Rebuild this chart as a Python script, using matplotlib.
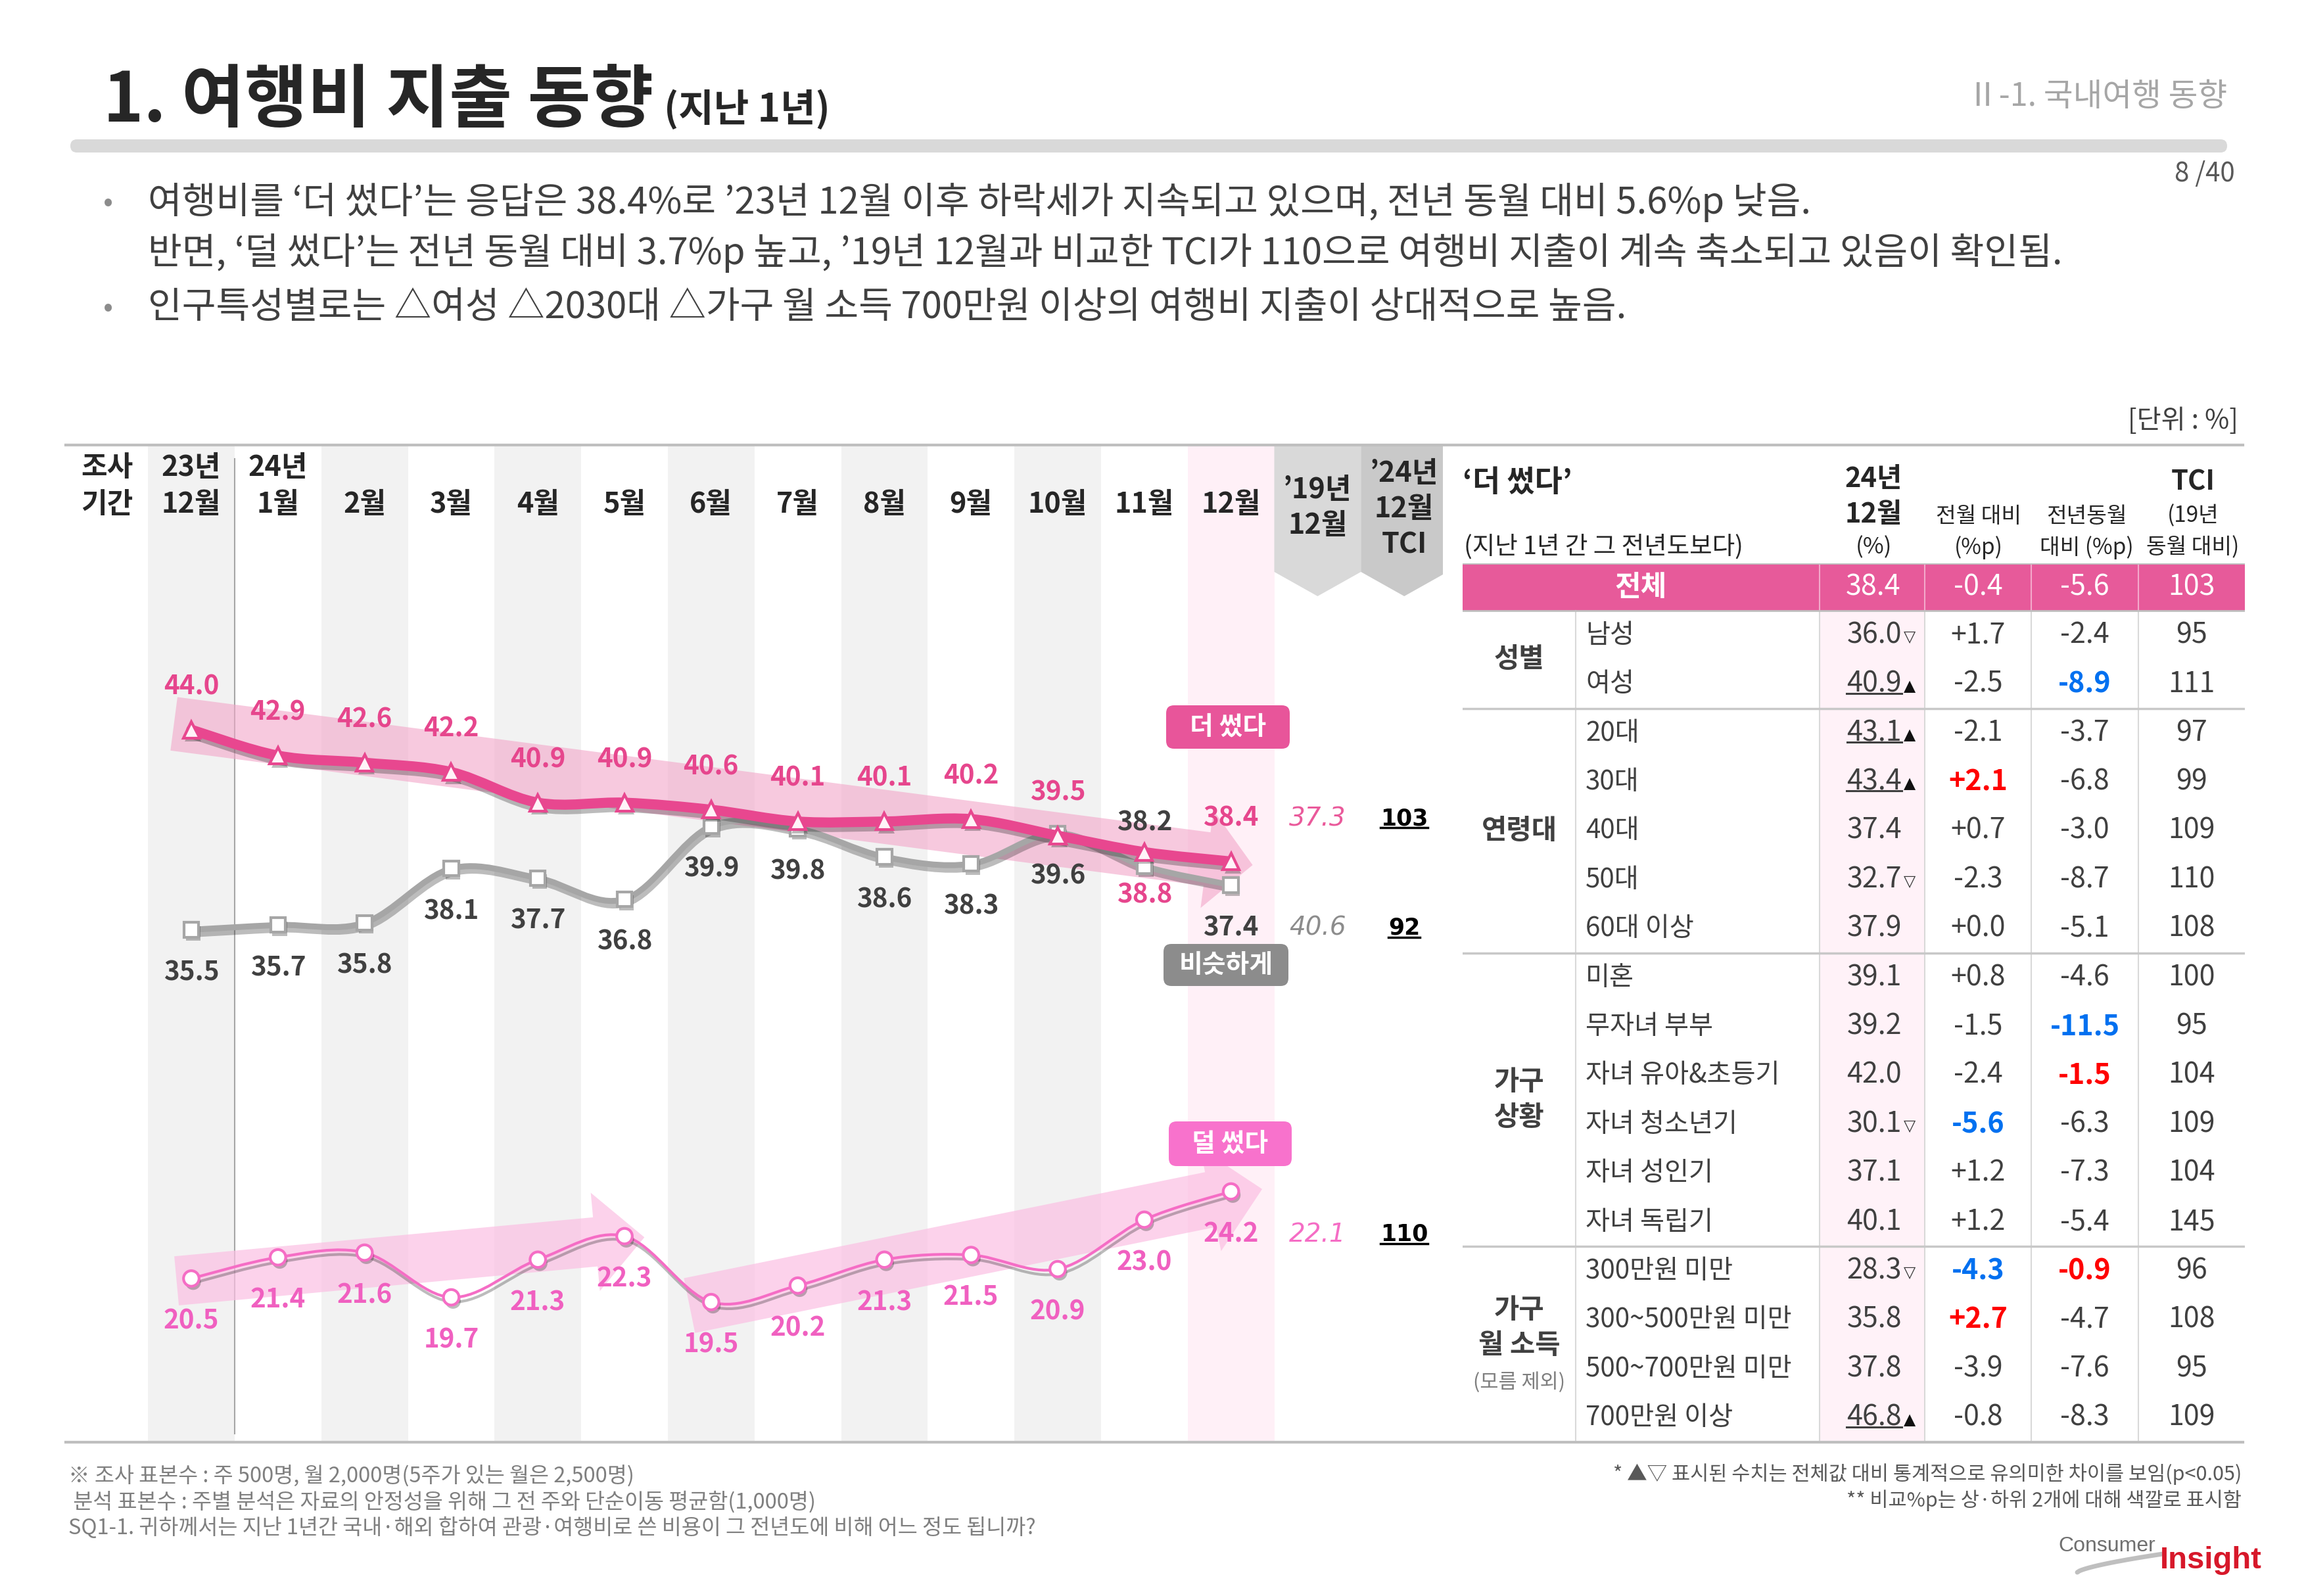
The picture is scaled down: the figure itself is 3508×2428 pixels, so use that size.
import numpy as np
import matplotlib
matplotlib.use('Agg')
import matplotlib.pyplot as plt
from matplotlib.patches import Polygon, FancyBboxPatch, PathPatch, Rectangle
from matplotlib.path import Path
from matplotlib.lines import Line2D
import matplotlib.patheffects as pe
from matplotlib.transforms import IdentityTransform

plt.rcParams['font.family'] = ['Noto Sans CJK KR', 'DejaVu Sans']

# ---------------- data ----------------
period_year = ['23년', '24년', '', '', '', '', '', '', '', '', '', '', '']
period_month = ['12월', '1월', '2월', '3월', '4월', '5월', '6월', '7월', '8월', '9월', '10월', '11월', '12월']
more_spent = [44.0, 42.9, 42.6, 42.2, 40.9, 40.9, 40.6, 40.1, 40.1, 40.2, 39.5, 38.8, 38.4]
similar = [35.5, 35.7, 35.8, 38.1, 37.7, 36.8, 39.9, 39.8, 38.6, 38.3, 39.6, 38.2, 37.4]
less_spent = [20.5, 21.4, 21.6, 19.7, 21.3, 22.3, 19.5, 20.2, 21.3, 21.5, 20.9, 23.0, 24.2]
series_names = ['더 썼다', '비슷하게', '덜 썼다']
dec2019 = [37.3, 40.6, 22.1]
tci_dec2024 = [103, 92, 110]

group_labels = ['성별', '연령대', '가구\n상황', '가구\n월 소득']
group_sizes = [2, 5, 6, 4]
row_labels = ['남성', '여성', '20대', '30대', '40대', '50대', '60대 이상', '미혼', '무자녀 부부',
              '자녀 유아&초등기', '자녀 청소년기', '자녀 성인기', '자녀 독립기', '300만원 미만',
              '300~500만원 미만', '500~700만원 미만', '700만원 이상']
row_value = [36.0, 40.9, 43.1, 43.4, 37.4, 32.7, 37.9, 39.1, 39.2, 42.0, 30.1, 37.1, 40.1, 28.3, 35.8, 37.8, 46.8]
row_sig = ['▽', '▲', '▲', '▲', '', '▽', '', '', '', '', '▽', '', '', '▽', '', '', '▲']
row_mom = [1.7, -2.5, -2.1, 2.1, 0.7, -2.3, 0.0, 0.8, -1.5, -2.4, -5.6, 1.2, 1.2, -4.3, 2.7, -3.9, -0.8]
row_yoy = [-2.4, -8.9, -3.7, -6.8, -3.0, -8.7, -5.1, -4.6, -11.5, -1.5, -6.3, -7.3, -5.4, -0.9, -4.7, -7.6, -8.3]
row_tci = [95, 111, 97, 99, 109, 110, 108, 100, 95, 104, 109, 104, 145, 96, 108, 95, 109]
total_label = '전체'
total_values = [38.4, -0.4, -5.6, 103]

# ---------------- layout ----------------
W, H, DPI = 3508, 2428, 100
fig = plt.figure(figsize=(W / DPI, H / DPI), dpi=DPI)
fig.patch.set_facecolor('white')


def rect(x0, y0, x1, y1):
    return [x0 / W, 1 - y1 / H, (x1 - x0) / W, (y1 - y0) / H]


PINK = '#e8478f'
PINK_LBL = '#e6468d'
GRAY_LINE = '#a6a6a6'
LESS = '#f56dc5'
LESS_LBL = '#f060c0'
DARK = '#262626'
TXT = '#404040'

CX0, CX1, CY0, CY1 = 100, 2195, 678, 2192
COL0, COLW = 291, 131.8
ax = fig.add_axes(rect(CX0, CY0, CX1, CY1))
ax.set_xlim((CX0 - COL0) / COLW, (CX1 - COL0) / COLW)
ax.set_ylim(13.78, 56.07)
ax.axis('off')
ax2 = ax.twinx()
ax2.set_ylim(13.6, 55.89)
ax2.axis('off')

xt = ax.get_xaxis_transform()


def fy(px):
    return 1 - (px - CY0) / (CY1 - CY0)


# column stripes
for i in range(0, 12, 2):
    ax.axvspan(i - 0.5, i + 0.5, color='#f2f2f2', lw=0, zorder=0)
ax.axvspan(11.5, 12.5, color='#fff0f7', lw=0, zorder=0)

# banners for '19 and TCI columns
for xc, col in [(13, '#d9d9d9'), (14, '#c9c9c9')]:
    ax.add_patch(Polygon([(xc - 0.5, 1.0), (xc + 0.5, 1.0), (xc + 0.5, fy(870)), (xc, fy(907)),
                          (xc - 0.5, fy(870))], closed=True, transform=xt, fc=col, ec='none', zorder=0.5))

# separator line between 23년 and 24년
ax.plot([0.5, 0.5], [fy(698), fy(2181)], transform=xt, color='#a6a6a6', lw=1.5, zorder=0.6)

# header labels
hdr = dict(transform=xt, ha='center', va='center', fontsize=31, fontweight='bold', color=DARK, zorder=5)
ax.text(-0.97, fy(711), '조사', **hdr)
ax.text(-0.97, fy(767), '기간', **hdr)
for i in range(len(period_month)):
    if period_year[i]:
        ax.text(i, fy(711), period_year[i], **hdr)
    ax.text(i, fy(767), period_month[i], **hdr)
ax.text(13, fy(745), '’19년', **hdr)
ax.text(13, fy(799), '12월', **hdr)
ax.text(14, fy(720), '’24년', **hdr)
ax.text(14, fy(774), '12월', **hdr)
ax.text(14, fy(828), 'TCI', **hdr)


def smooth_path(xs, ys):
    pts = np.column_stack([xs, ys]).astype(float)
    n = len(pts)
    verts = [pts[0]]
    codes = [Path.MOVETO]
    for k in range(n - 1):
        p0 = pts[k - 1] if k > 0 else pts[k]
        p1, p2 = pts[k], pts[k + 1]
        p3 = pts[k + 2] if k + 2 < n else pts[k + 1]
        verts += [p1 + (p2 - p0) / 6.0, p2 - (p3 - p1) / 6.0, p2]
        codes += [Path.CURVE4] * 3
    return Path(verts, codes)


def trend_arrow(axis, p0, p1, shaft, head_w, head_len, color, alpha):
    a = axis.transData.transform(p0)
    b = axis.transData.transform(p1)
    d = b - a
    u = d / np.hypot(*d)
    nrm = np.array([-u[1], u[0]])
    base = b - u * head_len
    pts = [a + nrm * shaft / 2, base + nrm * shaft / 2, base + nrm * head_w / 2, b,
           base - nrm * head_w / 2, base - nrm * shaft / 2, a - nrm * shaft / 2]
    axis.add_patch(Polygon(pts, closed=True, transform=IdentityTransform(), fc=color, ec='none',
                           alpha=alpha, zorder=1))


x = np.arange(len(period_month))

# trend arrows
trend_arrow(ax, (x[0] - 0.2, more_spent[0] + 0.25), (x[-1] + 0.25, more_spent[-1] - 0.15),
            82, 150, 70, '#f2a6c9', 0.6)
trend_arrow(ax2, (x[0] - 0.17, less_spent[0] - 0.1), (x[5] + 0.23, less_spent[5] - 0.05),
            75, 150, 75, '#fbbfe3', 0.7)
trend_arrow(ax2, (x[6] - 0.25, less_spent[6] - 0.15), (x[-1] + 0.36, less_spent[-1] + 0.1),
            85, 160, 80, '#fbbfe3', 0.7)

shadow_line = [pe.SimpleLineShadow(offset=(2, -5), shadow_color='#222222', alpha=0.3), pe.Normal()]
shadow_mark = [pe.SimplePatchShadow(offset=(2, -4), shadow_rgbFace='#222222', alpha=0.3), pe.Normal()]

ax.add_patch(PathPatch(smooth_path(x, similar), fill=False, ec=GRAY_LINE, lw=6.5, capstyle='round',
                       joinstyle='round', path_effects=shadow_line, zorder=3))
ax.plot(x, similar, ls='none', marker='s', ms=16, mfc='white', mec=GRAY_LINE, mew=3,
        path_effects=shadow_mark, zorder=4)
ax.add_patch(PathPatch(smooth_path(x, more_spent), fill=False, ec=PINK, lw=11, capstyle='round',
                       joinstyle='round', path_effects=shadow_line, zorder=5))
ax.plot(x, more_spent, ls='none', marker='^', ms=18, mfc='#fff3f8', mec=PINK, mew=3,
        path_effects=shadow_mark, zorder=6)
ax2.add_patch(PathPatch(smooth_path(x, less_spent), fill=False, ec=LESS, lw=3, capstyle='round',
                        joinstyle='round', path_effects=shadow_line, zorder=3))
ax2.plot(x, less_spent, ls='none', marker='o', ms=17, mfc='white', mec=LESS, mew=3,
         path_effects=shadow_mark, zorder=4)

OFF = 47
more_side = [1] * 11 + [-1, 1]
similar_side = [-1] * 11 + [1, -1]
less_side = [-1] * 13
lbl = dict(textcoords='offset points', ha='center', va='center', fontsize=29, fontweight='bold', zorder=8)
for i in x:
    ax.annotate(f'{more_spent[i]:.1f}', (i, more_spent[i]), xytext=(0, OFF * more_side[i]), color=PINK_LBL, **lbl)
    ax.annotate(f'{similar[i]:.1f}', (i, similar[i]), xytext=(0, OFF * similar_side[i]), color=TXT, **lbl)
    ax2.annotate(f'{less_spent[i]:.1f}', (i, less_spent[i]), xytext=(0, OFF * less_side[i]), color=LESS_LBL, **lbl)

# '19 Dec values and TCI
cmp_colors = ['#ea5a9b', '#8c8c8c', LESS]
tci_texts = []
for k, (axis, series, side) in enumerate([(ax, more_spent, more_side[-1]), (ax, similar, similar_side[-1]),
                                           (ax2, less_spent, less_side[-1])]):
    axis.annotate(f'{dec2019[k]:.1f}', (13, series[-1]), xytext=(0, OFF * side), textcoords='offset points',
                  ha='center', va='center', fontsize=28, style='italic', fontweight='normal',
                  family=['DejaVu Sans'], color=cmp_colors[k], zorder=8)
    t = axis.annotate(f'{tci_dec2024[k]}', (14, series[-1]), xytext=(0, OFF * side), textcoords='offset points',
                      ha='center', va='center', fontsize=25, fontweight='bold',
                      family=['DejaVu Sans'], color='black', zorder=8)
    tci_texts.append(t)

# ---------------- table ----------------
TX0, TX1 = 2225, 3415
RT, RP = 929, 74.4
T_TOP, T_BOT = 857, 2195
axt = fig.add_axes(rect(TX0, T_TOP, TX1, T_BOT))
axt.set_xlim(TX0, TX1)
axt.set_ylim(-0.5 + (T_BOT - RT) / RP, -0.5 - (RT - T_TOP) / RP)
axt.axis('off')
ytop = -0.5 - (RT - T_TOP) / RP
ybot = -0.5 + (T_BOT - RT) / RP

C_SPLIT, C_VAL, C_MOM, C_YOY, C_TCI = 2397, 2768, 2928, 3090, 3253
axt.add_patch(Rectangle((TX0, ytop), TX1 - TX0, -0.5 - ytop, fc='#e75a9a', ec='none', zorder=1))
axt.add_patch(Rectangle((C_VAL, -0.5), C_MOM - C_VAL, ybot + 0.5, fc='#fff2f8', ec='none', zorder=0))
for cx in [C_VAL, C_MOM, C_YOY, C_TCI]:
    axt.plot([cx, cx], [ytop, -0.5], color='#f3a9cb', lw=1.5, zorder=2)
    axt.plot([cx, cx], [-0.5, ybot], color='#d9d9d9', lw=1.5, zorder=2)
axt.plot([C_SPLIT, C_SPLIT], [-0.5, ybot], color='#d9d9d9', lw=1.5, zorder=2)
axt.plot([TX0, TX1], [ytop, ytop], color='#bfbfbf', lw=2, zorder=3)
axt.plot([TX0, TX1], [-0.5, -0.5], color='#bfbfbf', lw=2, zorder=3)
edges = np.cumsum(group_sizes)[:-1]
for e in edges:
    axt.plot([TX0, TX1], [e - 0.5, e - 0.5], color='#c8c8c8', lw=2.5, zorder=3)

col_cx = [(C_VAL + C_MOM) / 2 + 2, (C_MOM + C_YOY) / 2, (C_YOY + C_TCI) / 2, (C_TCI + TX1) / 2]
yh = (ytop - 0.5) / 2
axt.text((TX0 + C_VAL) / 2, yh, total_label, ha='center', va='center', fontsize=31, fontweight='bold',
         color='white', zorder=4)
tot_fmt = [f'{total_values[0]:.1f}', f'{total_values[1]:.1f}', f'{total_values[2]:.1f}', f'{total_values[3]:d}']
for cx, s in zip(col_cx, tot_fmt):
    axt.text(cx, yh, s, ha='center', va='center', fontsize=31, color='white', zorder=4)

# group labels
start = 0
for g, size in zip(group_labels, group_sizes):
    mid = start + (size - 1) / 2
    lines = g.split('\n')
    if len(lines) == 1:
        axt.text(2311, mid, lines[0], ha='center', va='center', fontsize=30, fontweight='bold', color=TXT)
    elif size == 6:
        axt.text(2311, mid - 0.36, lines[0], ha='center', va='center', fontsize=30, fontweight='bold', color=TXT)
        axt.text(2311, mid + 0.36, lines[1], ha='center', va='center', fontsize=30, fontweight='bold', color=TXT)
    else:
        axt.text(2311, mid - 0.7, lines[0], ha='center', va='center', fontsize=30, fontweight='bold', color=TXT)
        axt.text(2311, mid + 0.03, lines[1], ha='center', va='center', fontsize=30, fontweight='bold', color=TXT)
        axt.text(2311, mid + 0.78, '(모름 제외)', ha='center', va='center', fontsize=22, color='#7f7f7f')
    start += size

mom_arr = np.array(row_mom)
yoy_arr = np.array(row_yoy)


def hl(arr):
    order = np.argsort(arr)
    cols = ['#404040'] * len(arr)
    for j in order[:2]:
        cols[j] = '#0070f0'
    for j in order[-2:]:
        cols[j] = '#ff0000'
    return cols


mom_col = hl(mom_arr)
yoy_col = hl(yoy_arr)
underline_list = []
for r in range(len(row_labels)):
    axt.text(2412, r, row_labels[r], ha='left', va='center', fontsize=29, color=TXT, zorder=4)
    tv = axt.text(2893, r, f'{row_value[r]:.1f}', ha='right', va='center', fontsize=31, color=TXT, zorder=4)
    if row_sig[r]:
        axt.text(2896, r + 0.04, row_sig[r], ha='left', va='center', fontsize=17,
                 family=['DejaVu Sans'], color='#111111' if row_sig[r] == '▲' else '#333333', zorder=4)
        if row_sig[r] == '▲':
            underline_list.append((tv, TXT))
    axt.text(col_cx[1], r, f'{row_mom[r]:+.1f}', ha='center', va='center', fontsize=31, color=mom_col[r],
             fontweight='bold' if mom_col[r] != '#404040' else 'normal', zorder=4)
    axt.text(col_cx[2], r, f'{row_yoy[r]:.1f}', ha='center', va='center', fontsize=31, color=yoy_col[r],
             fontweight='bold' if yoy_col[r] != '#404040' else 'normal', zorder=4)
    axt.text(col_cx[3], r, f'{row_tci[r]}', ha='center', va='center', fontsize=31, color=TXT, zorder=4)

# ---------------- overlay (pixel coordinates) ----------------
axp = fig.add_axes([0, 0, 1, 1])
axp.set_xlim(0, W)
axp.set_ylim(H, 0)
axp.axis('off')
axp.patch.set_alpha(0)

# title
title = axp.text(157, 185, '1. 여행비 지출 동향', ha='left', va='baseline', fontsize=75, fontweight='bold', color=DARK)
axp.add_patch(FancyBboxPatch((107, 212), 3388 - 107, 20, boxstyle='round,pad=0,rounding_size=10',
                             fc='#d9d9d9', ec='none'))
axp.text(3388, 147, 'Ⅱ-1. 국내여행 동향', ha='right', va='center', fontsize=35, color='#a6a6a6')
axp.text(3400, 265, '8 /40', ha='right', va='center', fontsize=29, color='#595959')

# bullets
bul = dict(ha='left', va='center', fontsize=40.5, color=TXT)
axp.text(165, 308, '•', ha='center', va='center', fontsize=32, color='#8c8c8c')
axp.text(225, 308, '여행비를 ‘더 썼다’는 응답은 38.4%로 ’23년 12월 이후 하락세가 지속되고 있으며, 전년 동월 대비 5.6%p 낮음.', **bul)
axp.text(225, 385, '반면, ‘덜 썼다’는 전년 동월 대비 3.7%p 높고, ’19년 12월과 비교한 TCI가 110으로 여행비 지출이 계속 축소되고 있음이 확인됨.', **bul)
axp.text(165, 468, '•', ha='center', va='center', fontsize=32, color='#8c8c8c')
axp.text(225, 468, '인구특성별로는 △여성 △2030대 △가구 월 소득 700만원 이상의 여행비 지출이 상대적으로 높음.', **bul)

axp.text(3405, 640, '[단위 : %]', ha='right', va='center', fontsize=29, color=TXT)

# borders
axp.plot([100, 3412], [677, 677], color='#bfbfbf', lw=3)
axp.plot([100, 3412], [2194, 2194], color='#bfbfbf', lw=3)

# table header
axp.text(2225, 735, '‘더 썼다’', ha='left', va='center', fontsize=33, fontweight='bold', color=DARK)
axp.text(2227, 832, '(지난 1년 간 그 전년도보다)', ha='left', va='center', fontsize=27, color=DARK)
hx = [2850, 3010, 3174, 3336]
axp.text(hx[0], 729, '24년', ha='center', va='center', fontsize=30, fontweight='bold', color=DARK)
axp.text(hx[0], 783, '12월', ha='center', va='center', fontsize=30, fontweight='bold', color=DARK)
axp.text(hx[0], 833, '(%)', ha='center', va='center', fontsize=25, color=DARK)
axp.text(hx[1], 785, '전월 대비', ha='center', va='center', fontsize=24, color=DARK)
axp.text(hx[1], 833, '(%p)', ha='center', va='center', fontsize=24, color=DARK)
axp.text(hx[2], 785, '전년동월', ha='center', va='center', fontsize=24, color=DARK)
axp.text(hx[2], 833, '대비 (%p)', ha='center', va='center', fontsize=24, color=DARK)
axp.text(hx[3], 733, 'TCI', ha='center', va='center', fontsize=30, fontweight='bold', color=DARK)
axp.text(hx[3], 785, '(19년', ha='center', va='center', fontsize=24, color=DARK)
axp.text(hx[3], 833, '동월 대비)', ha='center', va='center', fontsize=24, color=DARK)

# series name boxes
for (bx0, by0, bx1, by1), name, col in [((1774, 1073, 1962, 1139), series_names[0], '#e8559a'),
                                         ((1770, 1436, 1960, 1500), series_names[1], '#8c8c8c'),
                                         ((1778, 1706, 1965, 1774), series_names[2], '#f872cc')]:
    axp.add_patch(FancyBboxPatch((bx0, by0), bx1 - bx0, by1 - by0, boxstyle='round,pad=0,rounding_size=12',
                                 fc=col, ec='none', zorder=6))
    axp.text((bx0 + bx1) / 2, (by0 + by1) / 2, name, ha='center', va='center', fontsize=28,
             fontweight='bold', color='white', zorder=7)

# footnotes
fn = dict(ha='left', va='center', fontsize=23.5, color='#7f7f7f')
axp.text(104, 2245, '※ 조사 표본수 : 주 500명, 월 2,000명(5주가 있는 월은 2,500명)', **fn)
axp.text(104, 2285, ' 분석 표본수 : 주별 분석은 자료의 안정성을 위해 그 전 주와 단순이동 평균함(1,000명)', **fn)
axp.text(104, 2324, 'SQ1-1. 귀하께서는 지난 1년간 국내·해외 합하여 관광·여행비로 쓴 비용이 그 전년도에 비해 어느 정도 됩니까?', **fn)
fr = dict(ha='right', va='center', fontsize=22, color='#595959')
axp.text(3410, 2243, '* ▲▽ 표시된 수치는 전체값 대비 통계적으로 유의미한 차이를 보임(p<0.05)', **fr)
axp.text(3410, 2283, '** 비교%p는 상·하위 2개에 대해 색깔로 표시함', **fr)

# logo
axp.text(3131, 2352, 'Consumer', ha='left', va='center', fontsize=23, family=['Liberation Sans'],
         color='#6f6f6f')
axp.text(3286, 2374, 'Insight', ha='left', va='center', fontsize=34, fontweight='bold',
         family=['Liberation Sans'], color='#d7182a')
tt = np.linspace(0, 1, 40)
axp.plot(3160 + 130 * tt, 2392 - 28 * tt ** 0.7, color='#bfbfbf', lw=5, solid_capstyle='round')

# ---------------- post-draw adjustments ----------------
fig.canvas.draw()
renderer = fig.canvas.get_renderer()
bb = title.get_window_extent(renderer)
axp.text(bb.x1 + 16, 185, '(지난 1년)', ha='left', va='baseline', fontsize=42, fontweight='bold', color=DARK)


def underline(t, color, lw=2.2, pad=6):
    b = t.get_window_extent(renderer)
    y = b.y0 + pad
    fig.add_artist(Line2D([b.x0 / W, b.x1 / W], [y / H, y / H], color=color, lw=lw, transform=fig.transFigure))


for t in tci_texts:
    underline(t, 'black', lw=2.5, pad=3)
for t, c in underline_list:
    underline(t, c, lw=2.2, pad=8)

fig.savefig('out.png', dpi=DPI, facecolor='white')
